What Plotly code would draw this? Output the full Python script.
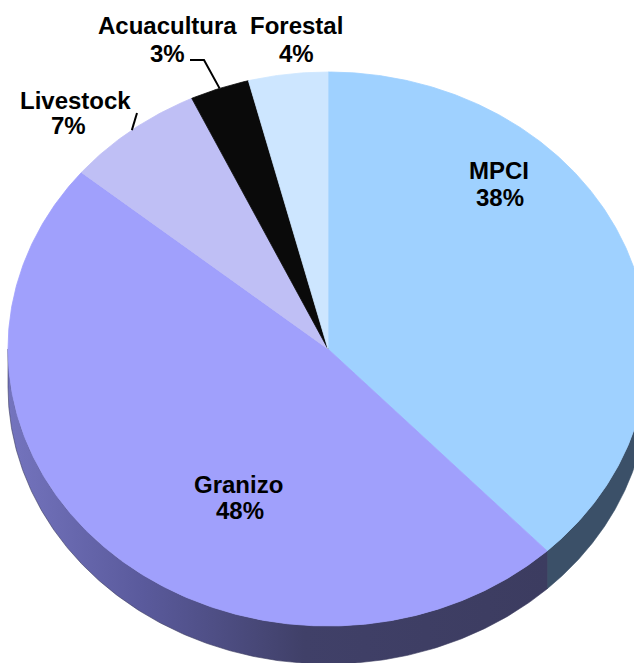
import numpy as np
import plotly.graph_objects as go

# ---- data ----
categories = ["MPCI", "Granizo", "Livestock", "Acuacultura", "Forestal"]
values = [38, 48, 7, 3, 4]

# ---- style ----
top_colors = ["#9FD1FF", "#A0A0FC", "#BFBFF5", "#0A0A0A", "#CDE6FF"]
wall_fill = {"MPCI": "#3B5068"}
granizo_wall_scale = [[0, "#7474BE"], [0.25, "#5A5A9C"], [0.55, "#404068"], [1, "#3C3C60"]]

W, H = 634, 663
CX, CY, RX, RY, DEPTH = 328, 349, 320, 277, 38

FONT = dict(family="Liberation Sans, Arial, sans-serif", size=24, color="#000000", weight="bold")

# label positions (layout)
label_pos = {
    "MPCI": ((499, 170), (500, 197)),
    "Granizo": ((238, 484), (240, 510)),
    "Livestock": ((75, 100), (68, 125)),
    "Acuacultura": ((167, 25), (167, 53)),
    "Forestal": ((296, 25), (296, 53)),
}
leader_start = {
    "Acuacultura": [(190, 60), (204, 60)],
    "Livestock": [(137, 113)],
}


def pt(theta):
    return CX + RX * np.sin(theta), CY - RY * np.cos(theta)


total = float(sum(values))
bounds = []
acc = 0.0
for v in values:
    a = acc / total * 2 * np.pi
    acc += v
    b = acc / total * 2 * np.pi
    bounds.append((a, b))

fig = go.Figure()

# ---- side walls (front half) ----
for cat, (a, b) in zip(categories, bounds):
    lo, hi = max(a, np.pi / 2), min(b, 3 * np.pi / 2)
    if hi <= lo:
        continue
    t = np.linspace(lo, hi, 240)
    x, y = pt(t)
    px = np.concatenate([x, x[::-1], x[:1]])
    py = np.concatenate([y, (y + DEPTH)[::-1], y[:1]])
    kw = dict(x=px, y=py, mode="lines", fill="toself", hoverinfo="skip", showlegend=False)
    if cat == "Granizo":
        fig.add_trace(go.Scatter(**kw, line=dict(width=0.6, color="#3C3C60"),
                                 fillcolor="#3C3C60",
                                 fillgradient=dict(type="horizontal", colorscale=granizo_wall_scale)))
    else:
        c = wall_fill.get(cat, "#333333")
        fig.add_trace(go.Scatter(**kw, line=dict(width=0.6, color=c), fillcolor=c))

# ---- top surface slices ----
for cat, v, (a, b), col in zip(categories, values, bounds, top_colors):
    n = max(int((b - a) / (2 * np.pi) * 720), 8)
    t = np.linspace(a, b, n)
    x, y = pt(t)
    px = np.concatenate([[CX], x, [CX]])
    py = np.concatenate([[CY], y, [CY]])
    fig.add_trace(go.Scatter(x=px, y=py, mode="lines", fill="toself", fillcolor=col,
                             line=dict(width=0.8, color=col), name=cat,
                             hovertemplate=f"{cat}: {v}%<extra></extra>", showlegend=False))

# ---- leader lines ----
for cat, (a, b) in zip(categories, bounds):
    if cat in leader_start:
        ex, ey = pt((a + b) / 2)
        pts = leader_start[cat] + [(ex, ey)]
        fig.add_trace(go.Scatter(x=[p[0] for p in pts], y=[p[1] for p in pts], mode="lines",
                                 line=dict(color="#000000", width=2), hoverinfo="skip",
                                 showlegend=False))

# ---- labels ----
for cat, v in zip(categories, values):
    (x1, y1), (x2, y2) = label_pos[cat]
    fig.add_annotation(x=x1, y=y1, text=cat, showarrow=False, font=FONT,
                       xanchor="center", yanchor="middle")
    fig.add_annotation(x=x2, y=y2, text=f"{v}%", showarrow=False, font=FONT,
                       xanchor="center", yanchor="middle")

fig.update_layout(
    width=W, height=H,
    margin=dict(l=0, r=0, t=0, b=0),
    paper_bgcolor="#FFFFFF", plot_bgcolor="#FFFFFF",
    xaxis=dict(range=[0, W], visible=False, fixedrange=True),
    yaxis=dict(range=[H, 0], visible=False, fixedrange=True),
    showlegend=False,
)

fig.write_html("out.html", config={"displayModeBar": False},
               post_script="document.body.style.margin='0';document.body.style.overflow='hidden';")
